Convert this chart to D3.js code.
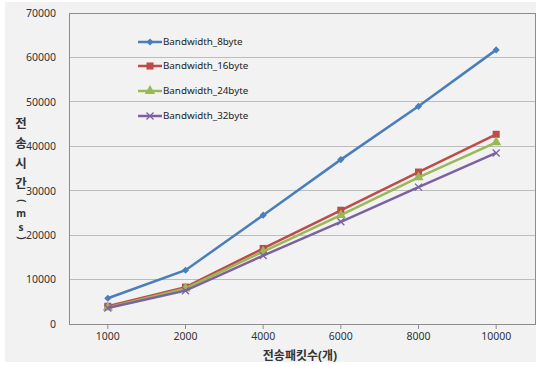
<!DOCTYPE html>
<html><head><meta charset="utf-8">
<script src="https://cdn.jsdelivr.net/npm/d3@7"></script>
<style>body{margin:0;background:#fff}svg{display:block}</style>
</head><body><svg id="c" width="538" height="365"></svg>
<script>
const categories = ["1000","2000","4000","6000","8000","10000"];
const s8  = [5800, 12100, 24500, 37000, 49000, 61700];
const s16 = [4000, 8300, 17000, 25600, 34200, 42700];
const s24 = [3700, 8000, 16300, 24500, 33000, 40900];
const s32 = [3600, 7500, 15400, 23000, 30800, 38500];
const seriesNames = ["Bandwidth_8byte","Bandwidth_16byte","Bandwidth_24byte","Bandwidth_32byte"];
const yTicks = [0,10000,20000,30000,40000,50000,60000,70000];
const xTitle = "전송패킷수(개)";
const yTitleChars = ["전","송","시","간","(","m","s",")"];

const colors = ["#4a7ebb","#be4b48","#98b954","#7d60a0"];
const data = [s8,s16,s24,s32];

const svg = d3.select("#c");
const font = "'Noto Sans', 'Noto Sans CJK KR', sans-serif";
svg.append("rect").attr("x",5).attr("y",2).attr("width",531).attr("height",360).attr("fill","#f2f2f2");

const L=69, R=535, T=13, B=324;
const x = d3.scaleBand().domain(categories).range([L,R]);
const y = d3.scaleLinear().domain([0,70000]).range([B,T]);

// gridlines
svg.append("g").selectAll("line").data(yTicks.slice(1)).join("line")
  .attr("x1",L).attr("x2",R).attr("y1",d=>y(d)).attr("y2",d=>y(d))
  .attr("stroke","#bcbcbc").attr("stroke-width",1).attr("shape-rendering","crispEdges");
svg.append("rect").attr("x",L).attr("y",T).attr("width",R-L).attr("height",B-T)
  .attr("fill","none").attr("stroke","#8c8c8c").attr("shape-rendering","crispEdges");

// y axis labels
const yAxis = d3.axisLeft(y).tickValues(yTicks).tickSize(0).tickPadding(13).tickFormat(d3.format("d"));
const ya = svg.append("g").attr("transform",`translate(${L},0)`).call(yAxis);
ya.select(".domain").remove();
ya.selectAll("text").attr("font-family",font).attr("font-size",10.5).attr("fill","#333");

// x axis
const xAxis = d3.axisBottom(x).tickSize(5).tickPadding(4);
const xa = svg.append("g").attr("transform",`translate(0,${B})`).call(xAxis);
xa.select(".domain").remove();
xa.selectAll("line").attr("stroke","#8c8c8c");
xa.selectAll("text").attr("font-family",font).attr("font-size",10.5).attr("fill","#333");

// titles
svg.append("text").attr("x",(L+R)/2-2).attr("y",360).attr("text-anchor","middle")
  .attr("font-family",font).attr("font-size",12).attr("font-weight","bold").attr("fill","#333").text(xTitle);
const yPos = [124,144,164,184,201,213,227,238];
yTitleChars.forEach((ch,i)=>{
  const t = svg.append("text").attr("text-anchor","middle").attr("font-family",font)
    .attr("font-weight","bold").attr("fill","#333").attr("font-size", i<4?12.5:10).text(ch);
  if(ch==="("||ch===")"){
    t.attr("transform",`translate(21,${yPos[i]}) rotate(90)`).attr("dy","0.35em");
  } else {
    t.attr("x",21).attr("y",yPos[i]).attr("dy","0.35em");
  }
});

// markers
function marker(g,k,cx,cy){
  if(k===3){
    g.append("path").attr("d","M-3.5,-3.5L3.5,3.5M-3.5,3.5L3.5,-3.5").attr("transform",`translate(${cx},${cy})`)
      .attr("stroke",colors[k]).attr("stroke-width",1.3).attr("fill","none");
  } else if(k===0){
    g.append("path").attr("d",d3.symbol().type(d3.symbolSquare).size(26)()).attr("transform",`translate(${cx},${cy}) rotate(45)`).attr("fill",colors[k]);
  } else if(k===1){
    g.append("path").attr("d",d3.symbol().type(d3.symbolSquare).size(50)()).attr("transform",`translate(${cx},${cy})`).attr("fill",colors[k]);
  } else {
    g.append("path").attr("d",d3.symbol().type(d3.symbolTriangle).size(45)()).attr("transform",`translate(${cx},${cy})`).attr("fill",colors[k]);
  }
}

// lines
const line = d3.line().x((d,i)=>x(categories[i])+x.bandwidth()/2).y(d=>y(d));
data.forEach((vals,k)=>{
  const g = svg.append("g");
  g.append("path").attr("d",line(vals)).attr("fill","none").attr("stroke",colors[k]).attr("stroke-width",2.5);
  vals.forEach((v,i)=>marker(g,k,x(categories[i])+x.bandwidth()/2,y(v)));
});

// legend
const legY = [42,66,91,116];
seriesNames.forEach((name,k)=>{
  const g = svg.append("g").attr("transform",`translate(138,${legY[k]})`);
  g.append("line").attr("x1",0).attr("x2",24).attr("stroke",colors[k]).attr("stroke-width",2.5);
  marker(g,k,12,0);
  g.append("text").attr("x",25).attr("y",0).attr("dy","0.35em").attr("font-family",font)
    .attr("font-size",9.8).attr("fill","#222").text(name);
});
</script></body></html>
